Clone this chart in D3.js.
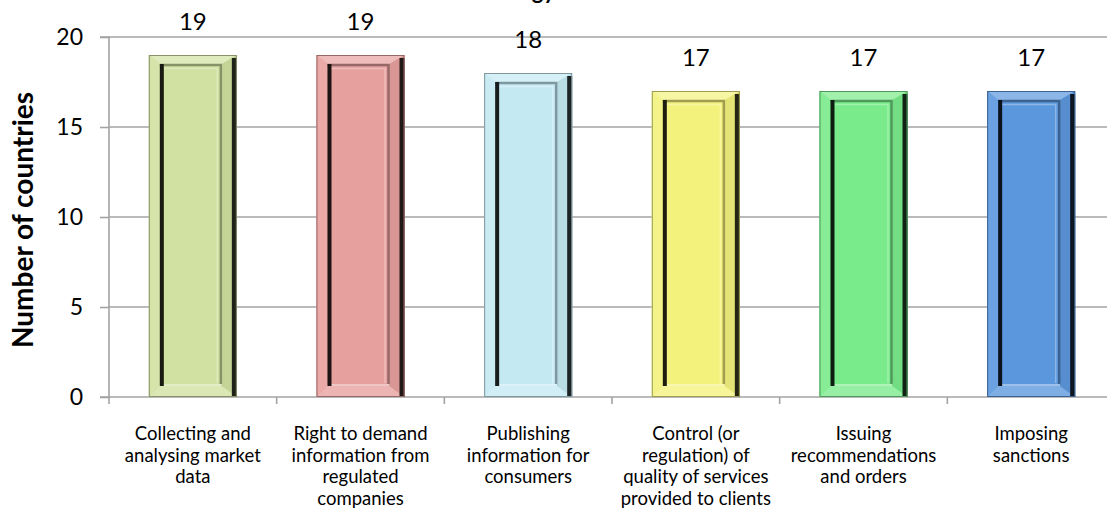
<!DOCTYPE html>
<html>
<head>
<meta charset="utf-8">
<script src="https://cdn.jsdelivr.net/npm/d3@7"></script>
<style>
  html, body { margin: 0; padding: 0; background: #fff; }
  svg { display: block; }
  text { font-family: Lato, "Open Sans", sans-serif; fill: #000; }
</style>
</head>
<body>
<svg id="chart" width="1107" height="521"></svg>
<script>
// ---- data ----
const categories = [
  "Collecting and\nanalysing market\ndata",
  "Right to demand\ninformation from\nregulated\ncompanies",
  "Publishing\ninformation for\nconsumers",
  "Control (or\nregulation) of\nquality of services\nprovided to clients",
  "Issuing\nrecommendations\nand orders",
  "Imposing\nsanctions"
];
const values = [19, 19, 18, 17, 17, 17];
const barColors = ["#d1e1a1", "#e6a09e", "#c4e9f3", "#f3f27c", "#79eb8a", "#5b97dd"];
const yTicks = [0, 5, 10, 15, 20];
const yAxisTitle = "Number of countries";
const titleText = "Energy";

// ---- layout ----
const W = 1107, H = 521;
const x0 = 109, plotRight = 1115, yTop = 37, yBottom = 397;

const svg = d3.select("#chart");

const x = d3.scaleBand().domain(categories).range([x0, plotRight]).paddingInner(0.475).paddingOuter(0.2375);
const y = d3.scaleLinear().domain([0, 20]).range([yBottom, yTop]);

// clipped title (only descenders visible, as in the reference)
svg.append("text").attr("x", 555).attr("y", -1).attr("text-anchor", "end")
  .style("font-weight", "bold").style("font-size", "22px").text(titleText);

// gridlines
svg.append("g").selectAll("line").data(yTicks.filter(d => d > 0)).join("line")
  .attr("x1", x0).attr("x2", W).attr("y1", d => y(d)).attr("y2", d => y(d))
  .attr("stroke", "#a3a3a3").attr("stroke-width", 1.6);

// y axis
const yAxis = d3.axisLeft(y).tickValues(yTicks).tickSize(9).tickPadding(17).tickFormat(d3.format("d"));
const gy = svg.append("g").attr("transform", `translate(${x0},0)`).call(yAxis);
gy.select(".domain").attr("stroke", "#a3a3a3").attr("stroke-width", 1.6).attr("d", `M-9,${yTop}H0V${yBottom}H-9`);
gy.selectAll(".tick line").attr("stroke", "#a3a3a3").attr("stroke-width", 1.6);
gy.selectAll(".tick text").style("font-size", "23px").style("font-family", "Lato, sans-serif").attr("fill", "#000");

// x axis baseline + category ticks
const step = x.step();
const bounds = d3.range(0, categories.length + 1).map(i => x0 + i * step);
svg.append("line").attr("x1", x0).attr("x2", W).attr("y1", yBottom).attr("y2", yBottom)
  .attr("stroke", "#a3a3a3").attr("stroke-width", 1.6);
svg.append("g").selectAll("line").data(bounds).join("line")
  .attr("x1", d => d).attr("x2", d => d).attr("y1", yBottom).attr("y2", yBottom + 7)
  .attr("stroke", "#a3a3a3").attr("stroke-width", 1.6);

// bars with bevel
const mix = (c, t, a) => d3.interpolateRgb(c, t)(a);
const bars = svg.append("g").selectAll("g").data(values.map((v, i) => ({v, i, c: categories[i], col: barColors[i]}))).join("g");
bars.each(function(d) {
  const g = d3.select(this);
  const bx = x(d.c), bw = x.bandwidth(), by = y(d.v), bh = yBottom - y(d.v);
  const c = d.col;
  const il = bx + 11, ir = bx + bw - 15, it = by + 9, ib = by + bh - 11;
  g.append("rect").attr("x", bx).attr("y", by).attr("width", bw).attr("height", bh).attr("fill", c);
  // top bevel (light)
  g.append("path").attr("d", `M${bx},${by}H${bx + bw}L${ir},${it}H${il}Z`).attr("fill", mix(c, "#fff", 0.3));
  // left bevel
  g.append("path").attr("d", `M${bx},${by}L${il},${it}V${ib}L${bx},${by + bh}Z`).attr("fill", mix(c, "#fff", 0.1));
  // bottom bevel
  g.append("path").attr("d", `M${bx},${by + bh}L${il},${ib}H${ir}L${bx + bw},${by + bh}Z`).attr("fill", mix(c, "#fff", 0.22));
  // right bevel
  g.append("path").attr("d", `M${bx + bw},${by}L${ir},${it}V${ib}L${bx + bw},${by + bh}Z`).attr("fill", mix(c, "#000", 0.06));
  // outer dark right strip
  g.append("rect").attr("x", bx + bw - 5).attr("y", by + 3).attr("width", 5).attr("height", bh - 3)
    .attr("fill", mix(c, "#000", 0.85));
  // outer edge outline
  g.append("rect").attr("x", bx + 0.5).attr("y", by + 0.5).attr("width", bw - 1).attr("height", bh - 1)
    .attr("fill", "none").attr("stroke", mix(c, "#000", 0.35)).attr("stroke-width", 1);
  // inner face
  g.append("rect").attr("x", il).attr("y", it).attr("width", ir - il).attr("height", ib - it).attr("fill", c);
  // inner dark top & right lines
  g.append("path").attr("d", `M${il},${it + 1}H${ir - 1}V${ib}`).attr("fill", "none")
    .attr("stroke", mix(c, "#000", 0.35)).attr("stroke-width", 2.5);
  // inner light line just inside
  g.append("path").attr("d", `M${il + 4},${it + 4.5}H${ir - 4.5}V${ib - 3}`).attr("fill", "none")
    .attr("stroke", mix(c, "#fff", 0.3)).attr("stroke-width", 1.5);
  // inner bottom light line
  g.append("path").attr("d", `M${il},${ib - 1}H${ir}`).attr("fill", "none")
    .attr("stroke", mix(c, "#fff", 0.4)).attr("stroke-width", 2);
  // inner black left strip
  g.append("rect").attr("x", il).attr("y", it).attr("width", 4).attr("height", ib - it)
    .attr("fill", mix(c, "#000", 0.88));
});

// value labels
svg.append("g").selectAll("text").data(values).join("text")
  .attr("x", (d, i) => x(categories[i]) + x.bandwidth() / 2)
  .attr("y", d => y(d) - 25)
  .attr("text-anchor", "middle").style("font-size", "24px").text(d => d);

// category labels
const cl = svg.append("g").selectAll("text").data(categories).join("text")
  .attr("text-anchor", "middle").style("font-size", "18.5px")
  .attr("transform", d => `translate(${x(d) + x.bandwidth() / 2},440)`);
cl.each(function(d) {
  const t = d3.select(this);
  d.split("\n").forEach((line, k) => {
    t.append("tspan").attr("x", 0).attr("y", k * 21.5).text(line);
  });
});

// y axis title
svg.append("text").attr("transform", "translate(33,220) rotate(-90)")
  .attr("text-anchor", "middle").style("font-weight", "bold").style("font-size", "28px")
  .text(yAxisTitle);
</script>
</body>
</html>
